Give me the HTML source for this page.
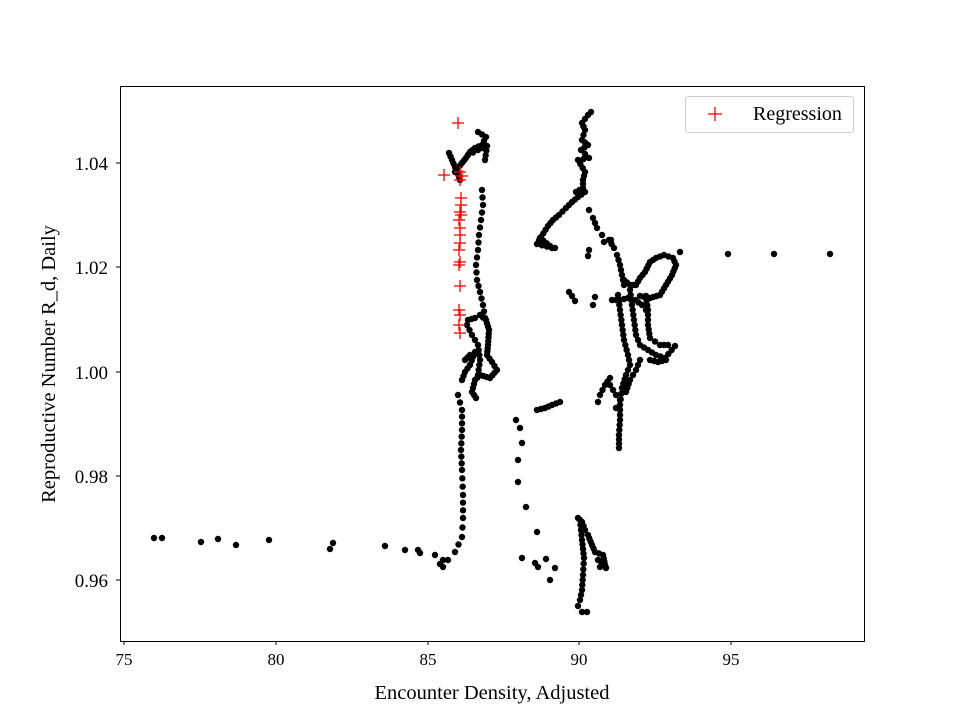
<!DOCTYPE html>
<html><head><meta charset="utf-8"><style>
body{margin:0;background:#fff}
svg{display:block}
text{font-family:"Liberation Serif",serif;fill:#000}
</style></head><body>
<svg id="s" width="960" height="720" xmlns="http://www.w3.org/2000/svg">
<rect width="960" height="720" fill="#fff"/>
<g id="pts"></g>
<rect x="120.5" y="86.5" width="744" height="555" fill="none" stroke="#000" stroke-width="1"/>
<g stroke="#000">
<line x1="124" y1="641" x2="124" y2="645"/><line x1="276" y1="641" x2="276" y2="645"/><line x1="428" y1="641" x2="428" y2="645"/><line x1="579" y1="641" x2="579" y2="645"/><line x1="731" y1="641" x2="731" y2="645"/>
<line x1="116" y1="163" x2="120" y2="163"/><line x1="116" y1="267" x2="120" y2="267"/><line x1="116" y1="372" x2="120" y2="372"/><line x1="116" y1="476" x2="120" y2="476"/><line x1="116" y1="580" x2="120" y2="580"/>
</g>
<g font-size="17" text-anchor="middle">
<text x="124" y="665">75</text><text x="276" y="665">80</text><text x="428" y="665">85</text><text x="579" y="665">90</text><text x="731" y="665">95</text>
</g>
<g font-size="19" text-anchor="end">
<text x="108" y="170">1.04</text><text x="108" y="274">1.02</text><text x="108" y="379">1.00</text><text x="108" y="483">0.98</text><text x="108" y="587">0.96</text>
</g>
<text x="492" y="699" font-size="20.5" text-anchor="middle">Encounter Density, Adjusted</text>
<text transform="translate(55,364) rotate(-90)" font-size="20.5" text-anchor="middle">Reproductive Number R_d, Daily</text>
<rect x="685.5" y="96.5" width="168" height="36" rx="3" fill="#fff" stroke="#ccc"/>
<g stroke="red" stroke-width="1.3"><line x1="708" y1="114" x2="722" y2="114"/><line x1="715" y1="107" x2="715" y2="121"/></g>
<text x="753" y="120" font-size="20">Regression</text>
</svg>
<script>
var g=document.getElementById('pts'),N='http://www.w3.org/2000/svg';
function dot(x,y){var c=document.createElementNS(N,'circle');c.setAttribute('cx',x);c.setAttribute('cy',y);c.setAttribute('r',3.2);c.setAttribute('fill','#000');g.appendChild(c);}
function path(a,step){for(var i=0;i<a.length-1;i++){var x0=a[i][0],y0=a[i][1],x1=a[i+1][0],y1=a[i+1][1];var d=Math.hypot(x1-x0,y1-y0),n=Math.max(1,Math.round(d/step));for(var k=0;k<n;k++)dot(x0+(x1-x0)*k/n,y0+(y1-y0)*k/n);}dot(a[a.length-1][0],a[a.length-1][1]);}
path([[478,132],[486,137],[482,145],[475,148],[470,152],[466,158],[462,163],[458,168],[455,172]],4);
path([[449,153],[452,160],[455,167],[458,174],[460,180]],4);
path([[468,155],[478,150],[487,146],[485,160]],5);
path([[482,190],[483,205],[481,220],[479,235],[478,250],[476,265],[477,280],[480,292],[483,305],[485,318]],7);
path([[468,320],[475,318],[480,315],[486,320],[489,330],[488,345],[487,355],[492,362],[497,370],[490,378],[480,375],[475,380],[472,392],[476,398]],4);
path([[467,325],[472,335],[478,345],[480,360],[478,375]],5);
path([[465,360],[470,355],[475,352],[470,365],[465,372],[462,380]],4);
path([[458,395],[462,410],[462,430],[461,450],[462,470],[463,495],[463,518],[462,537],[455,552],[448,560],[443,567]],8);
[[435,555],[420,553],[405,550],[385,546],[333,543],[330,549],[269,540],[218,539],[201,542],[236,545],[162,538],[154,538],[443,560],[440,564],[418,550]].forEach(function(p){dot(p[0],p[1]);});
path([[591,112],[588,115],[582,123],[585,130],[582,140],[588,145],[581,150],[589,158],[578,160],[585,172],[583,180],[583,188],[576,192],[585,192],[578,197],[572,202],[566,208],[559,215],[553,220],[548,226],[541,237],[537,244],[552,248]],5);
path([[540,238],[550,246],[555,248]],5);
path([[589,210],[593,218],[597,228],[602,235],[609,240],[614,248],[617,255],[620,265],[622,275],[624,285]],6);
path([[624,280],[630,285],[636,285],[640,278],[645,272],[650,262],[656,258],[664,255],[673,258],[676,265],[672,275],[666,285],[660,295],[650,298],[640,296]],4);
path([[618,295],[620,310],[622,325],[624,340],[628,355],[630,365],[626,375],[622,388],[620,405],[620,420],[619,435],[619,448]],5);
path([[630,290],[632,305],[634,320],[636,335],[640,345],[648,350],[656,355],[665,358],[675,346],[668,345],[660,345],[650,338],[648,325],[648,310],[646,296]],5);
path([[612,300],[620,300],[628,298],[635,300],[642,305],[646,310]],5);
path([[640,360],[636,370],[630,380],[626,392]],5);
path([[610,378],[605,385],[600,395],[598,402]],5);
path([[610,385],[616,395],[620,400],[616,408]],6);
path([[650,360],[658,362],[666,360]],5);
[[680,252],[728,254],[774,254],[830,254],[588,256],[589,250],[569,292],[572,296],[575,301],[595,297],[593,305],[604,242],[611,240]].forEach(function(p){dot(p[0],p[1]);});
path([[537,410],[545,408],[552,405],[560,402]],5);
[[516,420],[520,428],[522,443],[518,460],[518,482],[526,507],[537,532],[522,558],[535,563],[538,567],[546,559],[550,580],[555,568]].forEach(function(p){dot(p[0],p[1]);});
path([[578,518],[582,522],[585,530],[588,535],[592,545],[595,552],[603,555],[605,565],[600,567]],4);
path([[580,520],[582,540],[584,558],[583,575],[582,590],[580,600],[578,606],[582,612],[587,612]],5);
path([[598,560],[604,563],[606,568]],3);
function plus(x,y){var a=[[x-6,y,x+6,y],[x,y-6,x,y+6]];a.forEach(function(l){var e=document.createElementNS(N,'line');e.setAttribute('x1',l[0]);e.setAttribute('y1',l[1]);e.setAttribute('x2',l[2]);e.setAttribute('y2',l[3]);e.setAttribute('stroke','red');e.setAttribute('stroke-width','1.3');g.appendChild(e);});}
[[458,123],[444,175],[460,172],[462,176],[460,180],[461,198],[461,205],[460,212],[461,215],[459,220],[460,228],[460,235],[460,243],[459,250],[460,262],[459,265],[460,286],[459,310],[460,315],[459,325],[460,333]].forEach(function(p){plus(p[0],p[1]);});
</script>
</body></html>
